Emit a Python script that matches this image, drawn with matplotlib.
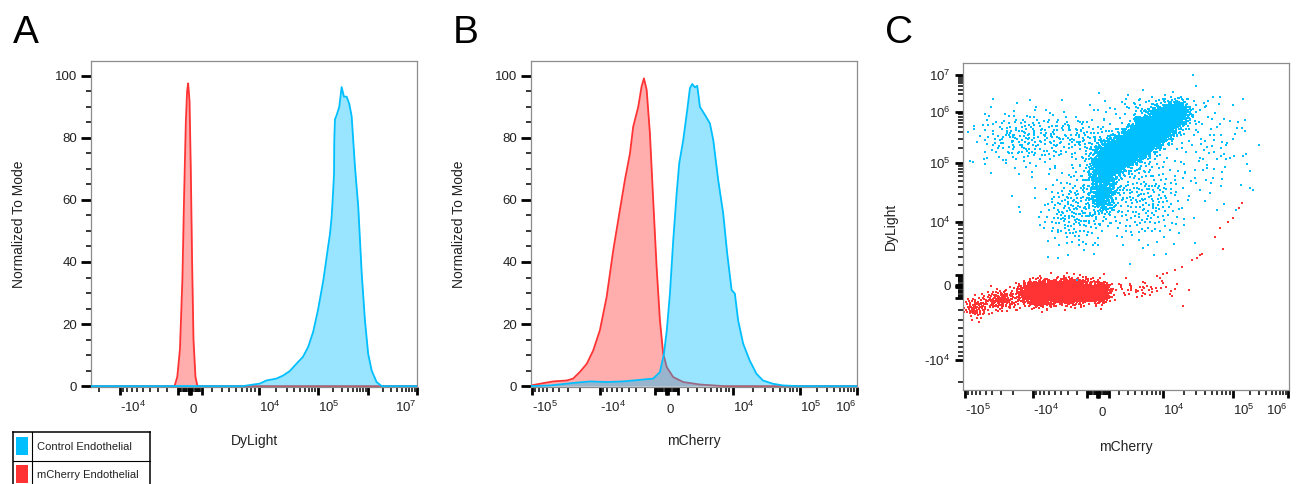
import numpy as np
import matplotlib
matplotlib.use("Agg")
import matplotlib.pyplot as plt
from matplotlib.patches import Rectangle
from matplotlib.lines import Line2D
from matplotlib.ticker import FixedLocator, FuncFormatter, MultipleLocator

plt.rcParams["font.family"] = ["Liberation Sans", "DejaVu Sans"]
plt.rcParams["mathtext.default"] = "regular"

CYAN = "#00BFFF"
RED = "#FF3333"
SPINE = "#8c8c8c"
TXT = "#222222"

# =========================
# Data
# =========================
# Panel A: DyLight histograms (value, % of mode)
a_ctrl_x = [-2.6e4, 6300, 8500, 1.04e4, 1.35e4, 2.0e4, 2.6e4, 3.35e4, 4.35e4, 5.6e4,
            6.85e4, 8.3e4, 1.0e5, 1.28e5, 1.6e5, 1.74e5, 1.88e5, 1.97e5, 2.1e5, 2.12e5,
            2.19e5, 2.37e5, 2.67e5, 2.98e5, 3.31e5, 3.75e5, 4.23e5, 4.72e5, 5.5e5, 6.4e5,
            7.5e5, 8.7e5, 1.01e6, 1.19e6, 1.5e6, 1.9e6, 1e7]
a_ctrl_y = [0, 0, 0.5, 0.8, 1.8, 2.4, 3.4, 4.8, 7.2, 9.4,
            12.6, 17.4, 24.4, 34, 45, 49, 54.6, 60, 68.5, 79,
            86, 87.4, 90, 96.4, 93.3, 93.3, 91, 87, 70.7, 57.8,
            36.3, 21.2, 10.4, 5, 1.3, 0, 0]
a_mch_x = [-2.6e4, -1290, -1050, -820, -610, -480, -330, -225, -140, -25,
           80, 190, 305, 470, 640, 1e7]
a_mch_y = [0, 0, 3, 12, 35, 60, 85, 95, 97.6, 92,
           70, 40, 15, 3, 0, 0]

# Panel B: mCherry histograms
b_ctrl_x = [-1.03e5, -5.4e4, -2.5e4, -1.4e4, -8160, -4800, -2560, -1210, -605, -258,
            -10, 262, 553, 857, 1096, 1475, 1875, 2157, 2410, 2720,
            3000, 3340, 4040, 4800, 5380, 6320, 7400, 8390, 9600, 1.07e4,
            1.2e4, 1.43e4, 1.79e4, 2.26e4, 2.83e4, 3.98e4, 5.6e4, 8.9e4, 1e6]
b_ctrl_y = [0, 0.2, 1, 1.5, 1.3, 1.5, 2, 2.4, 4.5, 10.4,
            18, 29.8, 47, 62, 71.8, 79.3, 89, 96, 97.4, 96.3,
            96.8, 90, 87.4, 84.7, 79.3, 66.4, 55.7, 42.7, 31, 29.8,
            21.2, 13.7, 8.3, 4, 1.8, 0.75, 0.2, 0, 0]
b_mch_x = [-1.03e5, -7.6e4, -4.9e4, -3.1e4, -2.5e4, -2.0e4, -1.57e4, -1.26e4, -1.0e4, -8160,
           -6650, -5380, -4550, -3800, -3370, -2750, -2370, -2120, -1840, -1520,
           -1210, -900, -605, -320, -10, 550, 1480, 3340, 7400, 1e6]
b_mch_y = [0.2, 0.75, 1.5, 1.8, 2.4, 4.5, 7.2, 11.5, 18, 28.7,
           43.8, 56.7, 66.4, 75, 83.6, 90, 96.6, 99.2, 95.5, 81.5,
           60, 38.4, 21.2, 10.4, 6.1, 2.9, 1.3, 0.5, 0, 0]

# Panel C: mCherry vs DyLight events, read as gated sub-populations
# (value range covering ~95% of each sub-population, event count)
c_ctrl_xlo = [-899, 266, 1770, 3540, 6020, 1.0e4, -806,
              -7.9e4, -8040, 177, 1.26e4, -715, -5850]
c_ctrl_xhi = [2090, 3670, 6420, 1.03e4, 1.69e4, 2.51e4, 1770,
              -1670, 1085, 2.43e4, 2.2e5, 4.69e4, 1085]
c_ctrl_ylo = [2.76e4, 7.3e4, 1.09e5, 1.8e5, 2.96e5, 4.86e5, 1.31e4,
              8.2e4, 3880, 4670, 2.36e4, 5.55e5, 1.15e5]
c_ctrl_yhi = [2.83e5, 2.96e5, 4.64e5, 7.63e5, 1.36e6, 2.11e6, 6.27e4,
              1.28e6, 7.6e4, 1.8e5, 3.2e6, 3.47e6, 8.7e5]
c_ctrl_n = [600, 900, 1000, 1000, 800, 350, 250,
            230, 220, 250, 90, 70, 80]
c_ctrl_out_x = [-2.04e4, -1.55e4, -7.6e4, 2.04e5, 2.04e5, 1.46e5, 1.23e5, 5.18e4, 6.5e4, 1.07e4]
c_ctrl_out_y = [2.76e4, 1.48e4, 1.05e5, 7.3e4, 3.77e4, 4.86e5, 6.37e5, 2.54e6, 2.54e6, 2.88e6]

c_mch_xlo = [-1.55e4, -6630, -715, -6.0e4, -1.14e5, 177]
c_mch_xhi = [-4120, -355, 1085, -1.55e4, -4.44e4, 1.75e4]
c_mch_ylo = [-1484, -1314, -1314, -2020, -2810, -983]
c_mch_yhi = [318, 501, 318, -348, -983, 501]
c_mch_n = [1200, 1500, 400, 150, 80, 50]
c_mch_out_x = [1.14e4, 1.48e4, 1.87e4, 2.6e4, 3.38e4, 5.53e4, 6.5e4, 7.2e4, 8.5e4, 1.0e5,
               1.29e5, 1.46e5, 1.93e4, 8290, 9130, 1.0e4, 3.6e4, 3.06e4]
c_mch_out_y = [1160, 1457, 1766, 2546, 3184, 6137, 8262, 4030, 1.0e4, 1.17e4,
               1.73e4, 2.1e4, -1658, 873, 686, 1063, 3300, 2780]

# tick labels
a_tick_vals = [-1e4, 0, 1e4, 1e5, 1e7]
a_tick_text = [r"-$10^{4}$", "0", r"$10^{4}$", r"$10^{5}$", r"$10^{7}$"]
b_tick_vals = [-1e5, -1e4, 0, 1e4, 1e5, 1e6]
b_tick_text = [r"-$10^{5}$", r"-$10^{4}$", "0", r"$10^{4}$", r"$10^{5}$", r"$10^{6}$"]
cy_tick_vals = [-1e4, 0, 1e4, 1e5, 1e6, 1e7]
cy_tick_text = [r"-$10^{4}$", "0", r"$10^{4}$", r"$10^{5}$", r"$10^{6}$", r"$10^{7}$"]


# =========================
# Biexponential-like axis scale
# =========================
def biex(vals, pos, c=3000.0):
    a = np.arcsinh(np.asarray(vals, float) / c)
    p = np.asarray(pos, float)

    def fwd(x):
        return np.interp(np.arcsinh(np.asarray(x, float) / c), a, p)

    def inv(y):
        return c * np.sinh(np.interp(np.asarray(y, float), p, a))

    return fwd, inv


A_X = biex([-1e9, -1e5, -1e4, 0, 1e4, 1e5, 1e6, 1e7, 1e9],
           [-230, 50, 120, 190, 259, 318, 368, 417, 515])
B_X = biex([-1e9, -1e5, -1e4, 0, 1e4, 1e5, 1e6, 1e9],
           [260, 532, 600, 667, 733, 800, 857, 1028])
C_X = biex([-1e9, -1e5, -1e4, 0, 1e4, 1e5, 1e6, 1e9],
           [693, 965, 1033, 1098, 1163, 1233, 1288, 1453])
C_Y = biex([-1e9, -1e5, -1e4, 0, 1e4, 1e5, 1e6, 1e7, 1e9],
           [-720, -432, -360, -285.5, -222, -163, -112, -75, -1])


def biex_ticks(axis, vals, texts):
    majors = [0.0] + [s * 10.0 ** k for k in range(2, 8) for s in (-1, 1)]
    minors = [s * m * 10.0 ** k for k in range(1, 7) for m in range(2, 10) for s in (-1, 1)]
    lo, hi = sorted(axis.get_view_interval())
    majors = sorted(v for v in majors if lo <= v <= hi)
    minors = sorted(v for v in minors if lo <= v <= hi)
    axis.set_major_locator(FixedLocator(majors))
    axis.set_minor_locator(FixedLocator(minors))

    def fmt(v, pos):
        for val, txt in zip(vals, texts):
            if np.isclose(v, val):
                return txt
        return ""

    axis.set_major_formatter(FuncFormatter(fmt))
    return majors


def align_x(ax, majors, right_val):
    ticks = ax.xaxis.get_major_ticks(len(majors))
    for v, t in zip(majors, ticks):
        t.label1.set_horizontalalignment("right" if np.isclose(v, right_val) else "left")
        if v == 0:
            t.label1.set_y(-0.013)


def style(ax):
    for s in ax.spines.values():
        s.set_color(SPINE)
        s.set_linewidth(0.9)
    ax.tick_params(which="major", length=6, width=2, color="black",
                   labelsize=9.5, labelcolor=TXT, pad=3)
    ax.tick_params(which="minor", length=3.5, width=1.1, color="black")


def hist(ax, x, y, color, z):
    ax.fill_between(x, y, 0, color=color, alpha=0.4, lw=0, zorder=z)
    ax.plot(x, y, color=color, lw=1.3, zorder=z + 0.5)


def halton(n, base, start):
    i = np.arange(start + 1, start + n + 1)
    out = np.zeros(n)
    f = 1.0
    while np.any(i > 0):
        f /= base
        out += f * (i % base)
        i //= base
    return out


def population(xlo, xhi, ylo, yhi, n, ox, oy, start):
    # spread each gated sub-population over its range (deterministic quasi-random layout)
    fx, ix = C_X
    fy, iy = C_Y
    xs, ys = [np.asarray(ox, float)], [np.asarray(oy, float)]
    for i in range(len(n)):
        u = halton(n[i], 2, start)
        w = halton(n[i], 3, start)
        x0, x1 = fx(xlo[i]), fx(xhi[i])
        y0, y1 = fy(ylo[i]), fy(yhi[i])
        r = np.sqrt(-2 * np.log(u))
        t = 2 * np.pi * w
        xs.append(ix((x0 + x1) / 2 + (x1 - x0) / 4 * r * np.cos(t)))
        ys.append(iy((y0 + y1) / 2 + (y1 - y0) / 4 * r * np.sin(t)))
        start += n[i] + 37
    return np.concatenate(xs), np.concatenate(ys)


# =========================
# Figure
# =========================
W, H = 1296, 484
fig = plt.figure(figsize=(W / 100, H / 100), dpi=100)


def px_axes(l, t, r, b):
    return fig.add_axes([l / W, 1 - b / H, (r - l) / W, (b - t) / H])


# ---- Panel A
axA = px_axes(91, 61, 417, 387)
axA.set_xscale("function", functions=A_X)
hist(axA, a_mch_x, a_mch_y, RED, 2)
hist(axA, a_ctrl_x, a_ctrl_y, CYAN, 3)
axA.set_xlim(-2.6e4, 1e7)
axA.set_ylim(-0.3, 104.8)
style(axA)
mA = biex_ticks(axA.xaxis, a_tick_vals, a_tick_text)
align_x(axA, mA, 1e7)

# ---- Panel B
axB = px_axes(531, 61, 857, 387)
axB.set_xscale("function", functions=B_X)
hist(axB, b_mch_x, b_mch_y, RED, 2)
hist(axB, b_ctrl_x, b_ctrl_y, CYAN, 3)
axB.set_xlim(-1.03e5, 1e6)
axB.set_ylim(-0.3, 104.8)
style(axB)
mB = biex_ticks(axB.xaxis, b_tick_vals, b_tick_text)
align_x(axB, mB, 1e6)

for ax, xl in ((axA, "DyLight"), (axB, "mCherry")):
    ax.yaxis.set_major_locator(MultipleLocator(20))
    ax.yaxis.set_minor_locator(MultipleLocator(5))
    ax.tick_params(axis="y", which="major", length=7)
    ax.set_ylabel("Normalized To Mode", fontsize=10, color=TXT)
    ax.yaxis.set_label_coords(-0.199, 0.5)
    ax.set_xlabel(xl, fontsize=10, color=TXT)
    ax.xaxis.set_label_coords(0.5, -0.144)

# ---- Panel C
axC = px_axes(963, 63, 1289, 390)
axC.set_xscale("function", functions=C_X)
axC.set_yscale("function", functions=C_Y)
rx, ry = population(c_mch_xlo, c_mch_xhi, c_mch_ylo, c_mch_yhi, c_mch_n,
                    c_mch_out_x, c_mch_out_y, 11)
cx, cy = population(c_ctrl_xlo, c_ctrl_xhi, c_ctrl_ylo, c_ctrl_yhi, c_ctrl_n,
                    c_ctrl_out_x, c_ctrl_out_y, 5000)
axC.scatter(rx, ry, s=2, marker="s", lw=0, color=RED, zorder=2)
axC.scatter(cx, cy, s=2, marker="s", lw=0, color=CYAN, zorder=2)
axC.set_xlim(-1.07e5, 1.04e6)
axC.set_ylim(-2.6e4, 2.1e7)
style(axC)
mC = biex_ticks(axC.xaxis, b_tick_vals, b_tick_text)
align_x(axC, mC, 1e6)
biex_ticks(axC.yaxis, cy_tick_vals, cy_tick_text)
axC.set_xlabel("mCherry", fontsize=10, color=TXT)
axC.xaxis.set_label_coords(0.5, -0.153)
axC.set_ylabel("DyLight", fontsize=10, color=TXT)
axC.yaxis.set_label_coords(-0.199, 0.5)

# ---- Panel letters
for x, letter in ((13, "A"), (453, "B"), (885, "C")):
    fig.text(x / W, 1 - 43 / H, letter, fontsize=28, va="baseline", ha="left")


# ---- Legend (table style, bottom left)
def fline(xs, ys, lw=1.1):
    fig.add_artist(Line2D([x / W for x in xs], [1 - y / H for y in ys],
                          transform=fig.transFigure, color="black", lw=lw))


fline([13, 150], [432, 432])
fline([13, 150], [461, 461], 0.8)
fline([13, 13], [432, 490])
fline([150, 150], [432, 490])
fline([32, 32], [432, 490], 0.8)
fig.add_artist(Rectangle((16 / W, 1 - 455 / H), 12 / W, 18 / H,
                         transform=fig.transFigure, color=CYAN, lw=0))
fig.add_artist(Rectangle((16 / W, 1 - 483 / H), 12 / W, 18 / H,
                         transform=fig.transFigure, color=RED, lw=0))
fig.text(37 / W, 1 - 447 / H, "Control Endothelial", fontsize=8, va="center", color=TXT)
fig.text(37 / W, 1 - 475 / H, "mCherry Endothelial", fontsize=8, va="center", color=TXT)

fig.savefig("out.png", dpi=100)
